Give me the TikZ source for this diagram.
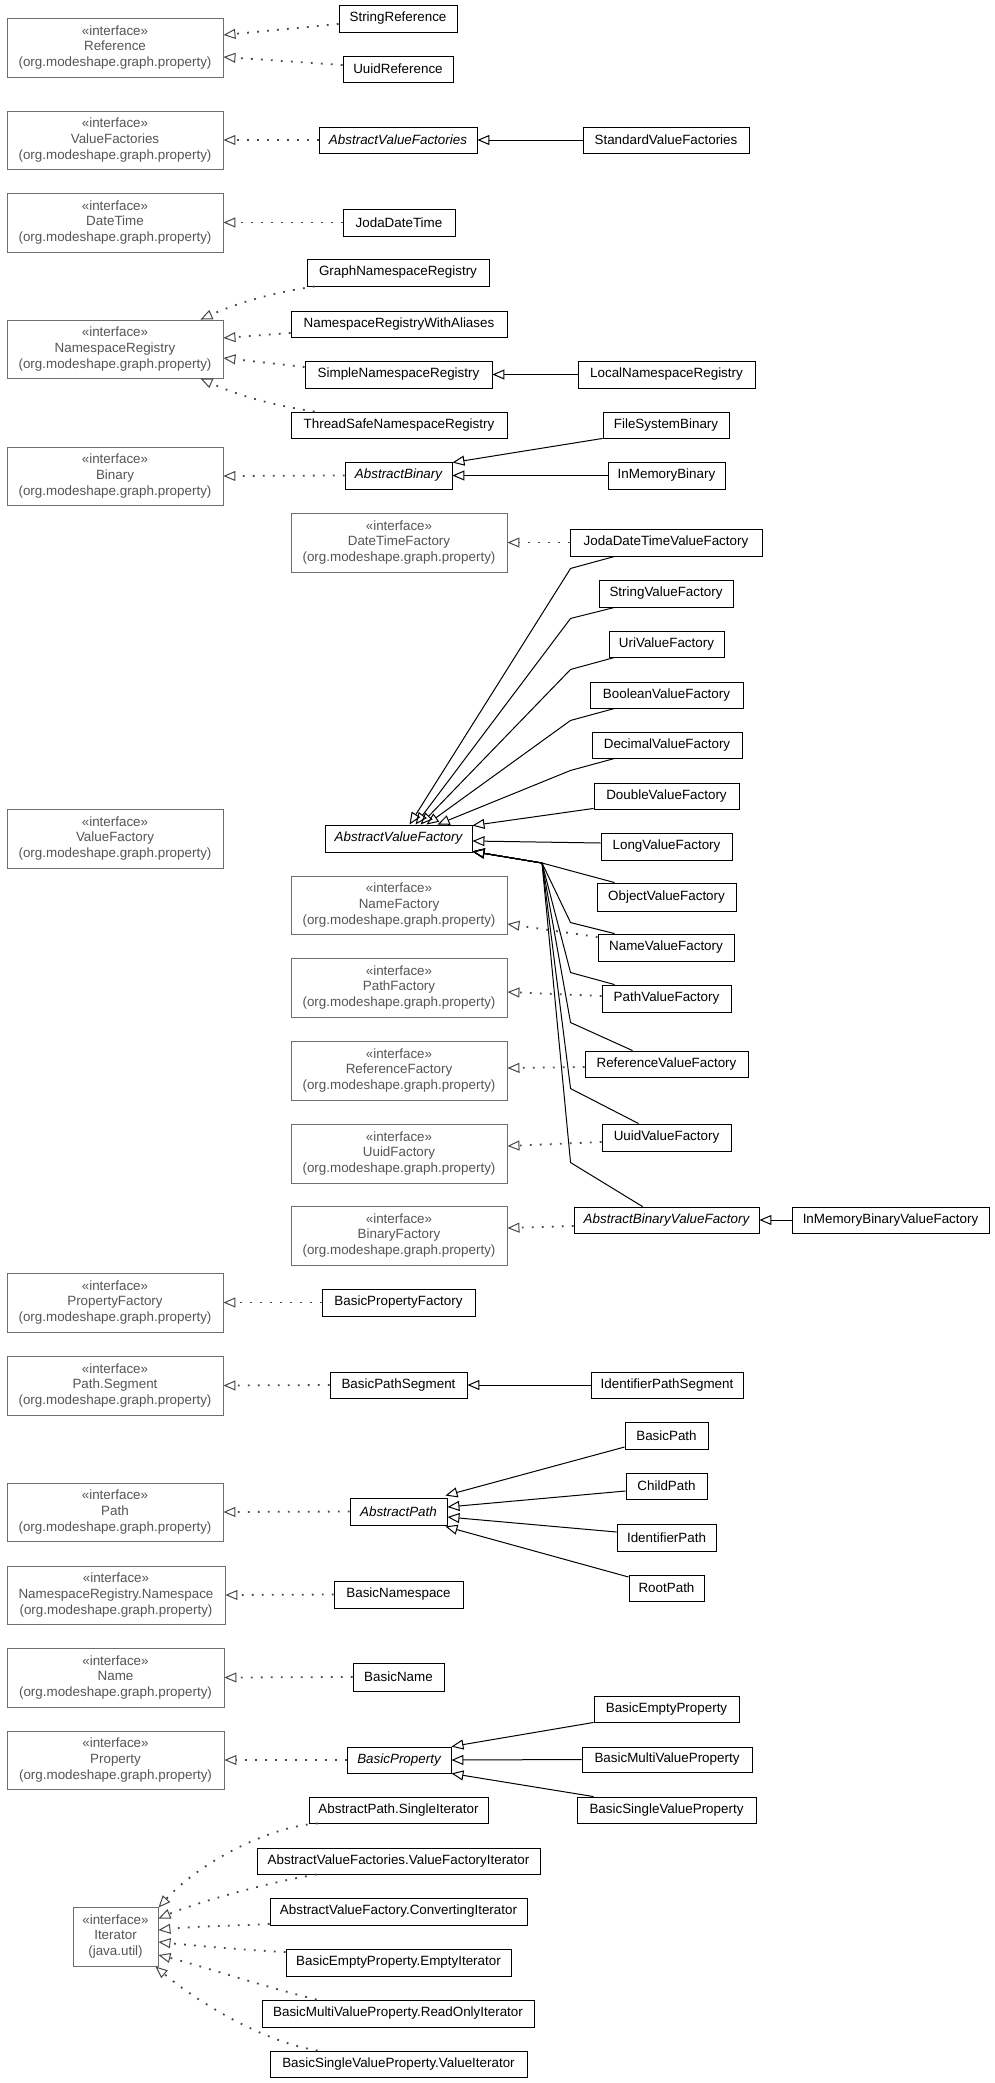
\documentclass[tikz,border=0pt]{standalone}
\usepackage{fontspec}
\setmainfont{Liberation Sans}
\usetikzlibrary{arrows.meta}
\definecolor{ifborder}{HTML}{6E6E6E}
\definecolor{iftext}{HTML}{555555}
\definecolor{dotc}{HTML}{474747}
\newcommand\dfont{\fontsize{13.4pt}{15.8pt}\selectfont}
% \cbox[opts]{name}{x1}{y1}{x2}{y2}{text}
\newcommand\cbox[7][]{\node[cls,#1,minimum width={#5-#3},minimum height={#6-#4}] (#2) at ({(#3+#5)/2},{(#4+#6)/2}) {#7};}
\newcommand\ibox[6]{\node[iface,minimum width={#4-#2},minimum height={#5-#3}] (#1) at ({(#2+#4)/2},{(#3+#5)/2}) {«interface»\\#6\\(org.modeshape.graph.property)};}
\begin{document}
\begin{tikzpicture}[x=1pt,y=-1pt,
  every node/.style={inner sep=0pt,font=\dfont},
  cls/.style={draw=black,line width=0.9pt,text=black,fill=white},
  absn/.style={font=\dfont\itshape},
  iface/.style={draw=ifborder,line width=0.9pt,text=iftext,align=center,fill=white},
  real/.style={draw=dotc,line width=1.8pt,dash pattern=on 1.8pt off 8.2pt,
    -{Triangle[open,length=12pt,width=10pt,line width=1pt]}},
  gen/.style={draw=black,line width=1pt,-{Triangle[open,length=12pt,width=10pt]}}]
\useasboundingbox (0,0) rectangle (995,2083);
% interfaces
\ibox{ifRef}{7}{18}{223}{77}{Reference}
\ibox{ifVFs}{7}{111}{223}{169}{ValueFactories}
\ibox{ifDT}{7}{193}{223}{252}{DateTime}
\ibox{ifNR}{7}{320}{223}{378}{NamespaceRegistry}
\ibox{ifBin}{7}{447}{223}{505}{Binary}
\ibox{ifDTF}{291}{513}{507}{572}{DateTimeFactory}
\ibox{ifVF}{7}{809}{223}{868}{ValueFactory}
\ibox{ifNF}{291}{876}{507}{934}{NameFactory}
\ibox{ifPF}{291}{958}{507}{1017}{PathFactory}
\ibox{ifRF}{291}{1041}{507}{1100}{ReferenceFactory}
\ibox{ifUF}{291}{1124}{507}{1183}{UuidFactory}
\ibox{ifBF}{291}{1206}{507}{1265}{BinaryFactory}
\ibox{ifPropF}{7}{1273}{223}{1332}{PropertyFactory}
\ibox{ifSeg}{7}{1356}{223}{1415}{Path.Segment}
\ibox{ifPath}{7}{1483}{223}{1541}{Path}
\ibox{ifNS}{7}{1566}{225}{1624}{NamespaceRegistry.Namespace}
\ibox{ifName}{7}{1648}{224}{1707}{Name}
\ibox{ifProp}{7}{1731}{224}{1789}{Property}
\node[iface,minimum width=85,minimum height=59] (ifIter) at (115.5,1936.5) {«interface»\\Iterator\\(java.util)};
% classes
\cbox{sref}{339}{5}{457}{32}{StringReference}
\cbox{uref}{343}{56}{453}{82}{UuidReference}
\cbox[absn]{avfs}{319}{127}{477}{153}{AbstractValueFactories}
\cbox{svfs}{583}{127}{749}{153}{StandardValueFactories}
\cbox{jdt}{343}{209}{455}{236}{JodaDateTime}
\cbox{gnr}{307}{259}{489}{286}{GraphNamespaceRegistry}
\cbox{nrwa}{291}{311}{507}{337}{NamespaceRegistryWithAliases}
\cbox{snr}{305}{361}{492}{388}{SimpleNamespaceRegistry}
\cbox{lnr}{578}{361}{755}{388}{LocalNamespaceRegistry}
\cbox{tsnr}{291}{412}{507}{438}{ThreadSafeNamespaceRegistry}
\cbox[absn]{absbin}{345}{462}{452}{489}{AbstractBinary}
\cbox{fsb}{603}{412}{729}{438}{FileSystemBinary}
\cbox{imb}{608}{462}{725}{489}{InMemoryBinary}
\cbox{jdtvf}{570}{529}{762}{556}{JodaDateTimeValueFactory}
\cbox{strvf}{599}{580}{733}{607}{StringValueFactory}
\cbox{urivf}{609}{631}{724}{657}{UriValueFactory}
\cbox{boolvf}{590}{682}{743}{708}{BooleanValueFactory}
\cbox{decvf}{592}{732}{742}{758}{DecimalValueFactory}
\cbox{dblvf}{594}{783}{739}{809}{DoubleValueFactory}
\cbox{longvf}{601}{833}{732}{860}{LongValueFactory}
\cbox[absn]{avf}{325}{825}{472}{852}{AbstractValueFactory}
\cbox{objvf}{597}{883}{736}{911}{ObjectValueFactory}
\cbox{namevf}{598}{934}{734}{961}{NameValueFactory}
\cbox{pathvf}{602}{985}{731}{1012}{PathValueFactory}
\cbox{refvf}{585}{1051}{748}{1077}{ReferenceValueFactory}
\cbox{uuidvf}{602}{1124}{731}{1151}{UuidValueFactory}
\cbox[absn]{abvf}{574}{1207}{759}{1233}{AbstractBinaryValueFactory}
\cbox{imbvf}{792}{1207}{989}{1233}{InMemoryBinaryValueFactory}
\cbox{bpf}{322}{1289}{475}{1316}{BasicPropertyFactory}
\cbox{bps}{330}{1372}{467}{1398}{BasicPathSegment}
\cbox{ips}{591}{1372}{743}{1398}{IdentifierPathSegment}
\cbox[absn]{ap}{350}{1498}{447}{1525}{AbstractPath}
\cbox{bp}{625}{1422}{708}{1449}{BasicPath}
\cbox{cp}{626}{1473}{707}{1499}{ChildPath}
\cbox{ip}{617}{1524}{716}{1551}{IdentifierPath}
\cbox{rp}{629}{1575}{704}{1601}{RootPath}
\cbox{bns}{334}{1581}{463}{1608}{BasicNamespace}
\cbox{bn}{353}{1663}{444}{1691}{BasicName}
\cbox[absn]{bprop}{347}{1747}{451}{1773}{BasicProperty}
\cbox{bep}{594}{1696}{739}{1722}{BasicEmptyProperty}
\cbox{bmvp}{582}{1747}{752}{1772}{BasicMultiValueProperty}
\cbox{bsvp}{577}{1797}{756}{1823}{BasicSingleValueProperty}
\cbox{si}{309}{1797}{488}{1823}{AbstractPath.SingleIterator}
\cbox{vfi}{257}{1848}{540}{1874}{AbstractValueFactories.ValueFactoryIterator}
\cbox{ci}{270}{1898}{527}{1925}{AbstractValueFactory.ConvertingIterator}
\cbox{ei}{286}{1949}{511}{1976}{BasicEmptyProperty.EmptyIterator}
\cbox{roi}{262}{2000}{534}{2027}{BasicMultiValueProperty.ReadOnlyIterator}
\cbox{vi}{270}{2051}{527}{2077}{BasicSingleValueProperty.ValueIterator}
\coordinate (conv) at (542,863);
% connectors
\draw[real] ([yshift=-5.5pt]sref.west) -- ([yshift=12.5pt]ifRef.east);
\draw[real] ([yshift=4pt]uref.west) -- ([yshift=-9.5pt]ifRef.east);
\draw[real] (avfs.west) -- (ifVFs.east);
\draw[gen] (svfs.west) -- (avfs.east);
\draw[real] (jdt.west) -- (ifDT.east);
\draw[real] ([xshift=8pt]gnr.south west) .. controls +(-40,6) and +(40,-18) .. ([xshift=-23pt]ifNR.north east);
\draw[real] ([yshift=-9pt]nrwa.west) -- ([yshift=11pt]ifNR.east);
\draw[real] ([yshift=7.5pt]snr.west) -- ([yshift=-9pt]ifNR.east);
\draw[gen] (lnr.west) -- (snr.east);
\draw[real] ([xshift=24pt]tsnr.north west) .. controls +(-40,-6) and +(40,18) .. ([xshift=-23pt]ifNR.south east);
\draw[real] (absbin.west) -- (ifBin.east);
\draw[gen] (fsb.south west) -- ([yshift=-1pt]absbin.north east);
\draw[gen] (imb.west) -- (absbin.east);
\draw[real] (jdtvf.west) -- (ifDTF.east);
\draw[gen] ([xshift=45pt]jdtvf.south west) -- ++(-44,12) -- ([xshift=85pt]avf.north west);
\draw[gen] ([xshift=16pt]strvf.south west) -- ++(-44,11) -- ([xshift=91pt]avf.north west);
\draw[gen] ([xshift=6pt]urivf.south west) -- ++(-44,12) -- ([xshift=96pt]avf.north west);
\draw[gen] ([xshift=25pt]boolvf.south west) -- ++(-44,12) -- ([xshift=102pt]avf.north west);
\draw[gen] ([xshift=23pt]decvf.south west) -- ++(-44,12) -- ([xshift=113pt]avf.north west);
\draw[gen] ([yshift=1pt]dblvf.south west) -- ([yshift=-1pt]avf.north east);
\draw[gen] ([yshift=3.5pt]longvf.west) -- ([yshift=-2.5pt]avf.east);
\draw[gen] ([xshift=18pt]objvf.north west) -- (conv) -- ([yshift=1pt]avf.south east);
\draw[gen] ([xshift=17pt]namevf.north west) -- ++(-44,-11) -- (conv) -- ([yshift=1pt]avf.south east);
\draw[gen] ([xshift=13pt]pathvf.north west) -- ++(-44,-12) -- (conv) -- ([yshift=1pt]avf.south east);
\draw[gen] ([xshift=48pt]refvf.north west) -- ++(-62,-28) -- (conv) -- ([yshift=1pt]avf.south east);
\draw[gen] ([xshift=37pt]uuidvf.north west) -- ++(-68,-35) -- (conv) -- ([yshift=1pt]avf.south east);
\draw[gen] ([xshift=69pt]abvf.north west) -- ++(-72,-44) -- (conv) -- ([yshift=1pt]avf.south east);
\draw[real] ([yshift=10.5pt]namevf.west) -- ([yshift=-19pt]ifNF.east);
\draw[real] ([yshift=2.5pt]pathvf.west) -- ([yshift=-4.5pt]ifPF.east);
\draw[real] ([yshift=-3pt]refvf.west) -- ([yshift=2.5pt]ifRF.east);
\draw[real] ([yshift=-4.5pt]uuidvf.west) -- ([yshift=7.5pt]ifUF.east);
\draw[real] ([yshift=-6pt]abvf.west) -- ([yshift=7.5pt]ifBF.east);
\draw[gen] (imbvf.west) -- (abvf.east);
\draw[real] (bpf.west) -- (ifPropF.east);
\draw[real] (bps.west) -- (ifSeg.east);
\draw[gen] (ips.west) -- (bps.east);
\draw[real] (ap.west) -- (ifPath.east);
\draw[gen] ([yshift=-11.5pt]bp.west) -- ([xshift=-2pt,yshift=2pt]ap.north east);
\draw[gen] ([yshift=-5pt]cp.west) -- ([yshift=4.5pt]ap.east);
\draw[gen] ([yshift=5.5pt]ip.west) -- ([yshift=-5.5pt]ap.east);
\draw[gen] ([yshift=11pt]rp.west) -- ([xshift=-2pt,yshift=-1pt]ap.south east);
\draw[real] (bns.west) -- (ifNS.east);
\draw[real] (bn.west) -- (ifName.east);
\draw[real] (bprop.west) -- (ifProp.east);
\draw[gen] (bep.south west) -- (bprop.north east);
\draw[gen] (bmvp.west) -- (bprop.east);
\draw[gen] ([xshift=17pt]bsvp.north west) -- (bprop.south east);
\draw[real] ([xshift=9pt]si.south west) .. controls +(-48,3) and +(42,-46) .. ([yshift=-1pt]ifIter.north east);
\draw[real] ([xshift=60pt]vfi.south west) .. controls +(-50,8) and +(35,-15) .. ([yshift=-12pt]ifIter.north east);
\draw[real] ([yshift=-12.5pt]ci.west) .. controls +(-40,2) and +(40,-4) .. ([yshift=6.5pt]ifIter.east);
\draw[real] ([yshift=10.5pt]ei.west) .. controls +(-40,-2) and +(40,4) .. ([yshift=-5.5pt]ifIter.east);
\draw[real] ([xshift=55pt]roi.north west) .. controls +(-60,-15) and +(40,10) .. ([yshift=-18.5pt]ifIter.east);
\draw[real] ([xshift=48pt]vi.north west) .. controls +(-60,-10) and +(35,30) .. ([xshift=-3pt]ifIter.south east);
\end{tikzpicture}
\end{document}
